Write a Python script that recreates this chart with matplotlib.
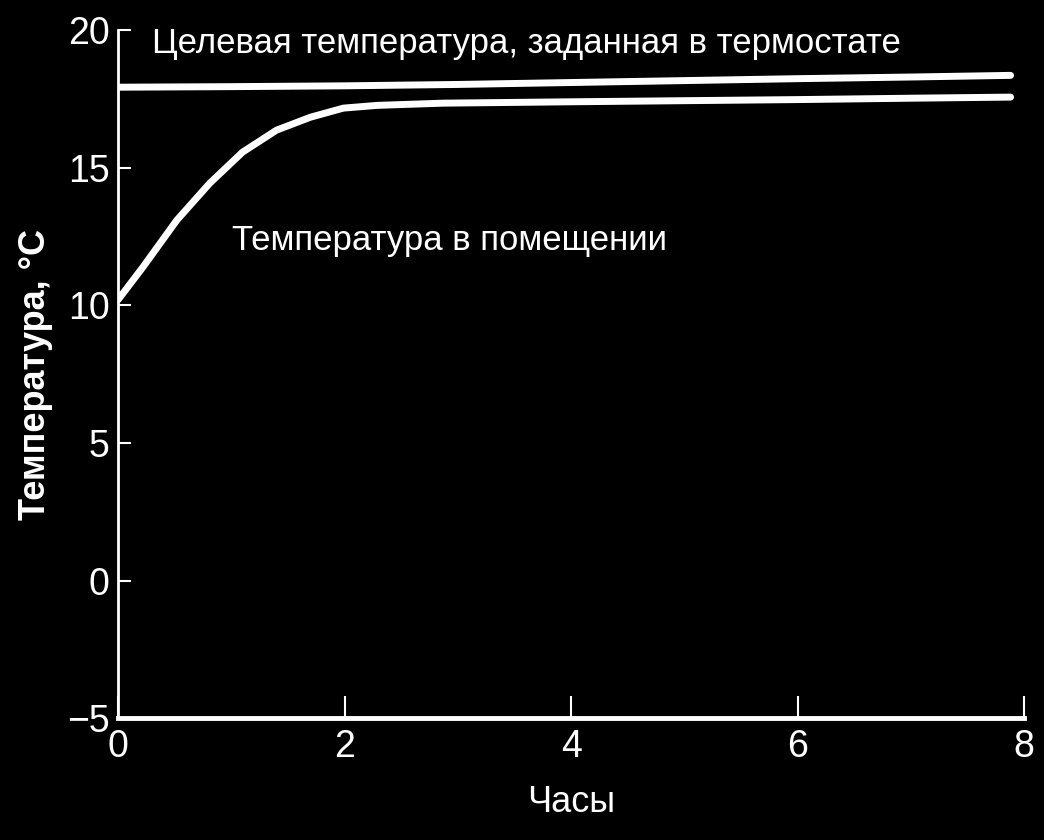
import matplotlib
matplotlib.use("Agg")
import matplotlib.pyplot as plt

# hours / degrees C
hours_target = [0, 1, 2, 3, 4, 5, 6, 7, 7.88]
target_temp = [17.93, 17.95, 17.98, 18.03, 18.1, 18.17, 18.24, 18.3, 18.36]

hours_room = [0, 0.22, 0.52, 0.81, 1.10, 1.40, 1.70, 1.99, 2.29, 2.87, 4, 5, 6, 7, 7.88]
room_temp = [10.2, 11.39, 13.10, 14.44, 15.57, 16.37, 16.84, 17.17, 17.27, 17.35,
             17.40, 17.44, 17.48, 17.53, 17.57]

x_ticks = [0, 2, 4, 6, 8]
y_ticks = [-5, 0, 5, 10, 15, 20]

plt.rcParams['font.family'] = ['Liberation Sans', 'DejaVu Sans']

fig = plt.figure(figsize=(10.44, 8.4), dpi=100, facecolor='black')
ax = fig.add_axes([0.113, 0.145, 0.868, 0.819])
ax.set_facecolor('black')

ax.plot(hours_target, target_temp, color='white', lw=5, solid_capstyle='round')
ax.plot(hours_room, room_temp, color='white', lw=5, solid_capstyle='round',
        solid_joinstyle='round')

ax.set_xlim(0, 8)
ax.set_ylim(-5, 20)
ax.set_xticks(x_ticks)
ax.set_yticks(y_ticks)
ax.set_yticklabels(['\u2212' + str(-v) if v < 0 else str(v) for v in y_ticks])

for s in ['top', 'right']:
    ax.spines[s].set_visible(False)
ax.spines['left'].set_color('white')
ax.spines['left'].set_linewidth(2)
ax.spines['bottom'].set_color('white')
ax.spines['bottom'].set_linewidth(3.5)

ax.tick_params(axis='y', direction='in', length=9, width=1.5, colors='white',
               labelsize=27, pad=6)
ax.tick_params(axis='x', direction='in', length=16, width=1.5, colors='white',
               labelsize=27, pad=8)

ax.set_xlabel('Часы', color='white', fontsize=26, labelpad=14)
ax.set_ylabel('Температура, °C', color='white', fontsize=26, fontweight='bold',
              labelpad=10)

ax.text(0.3, 19.5, 'Целевая температура, заданная в термостате', color='white',
        fontsize=25, ha='left', va='center')
ax.text(1.01, 12.35, 'Температура в помещении', color='white',
        fontsize=25, ha='left', va='center')

fig.savefig('out.png', dpi=100, facecolor='black')
